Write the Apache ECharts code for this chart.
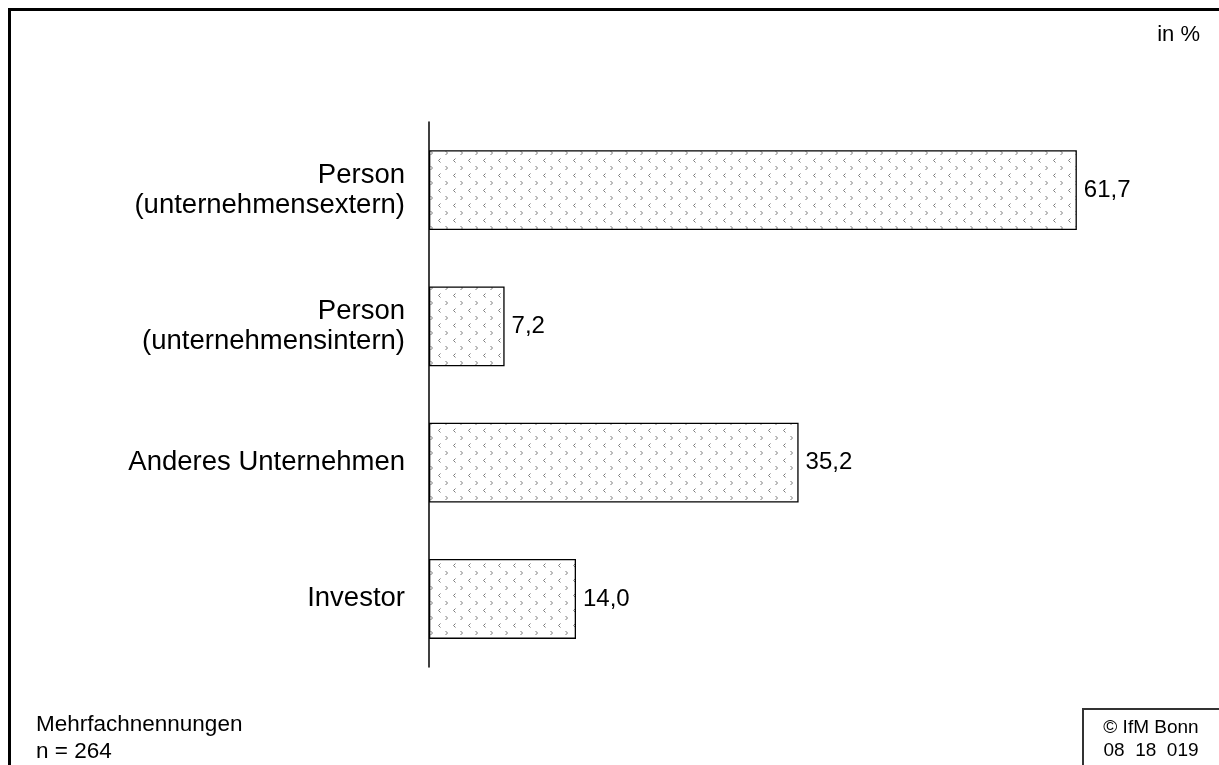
<!DOCTYPE html>
<html>
<head>
<meta charset="utf-8">
<script src="https://cdn.jsdelivr.net/npm/echarts@6/dist/echarts.min.js"></script>
<style>
  html, body { margin: 0; padding: 0; background: #fff; }
  #main { width: 1219px; height: 765px; }
</style>
</head>
<body>
<div id="main"></div>
<script>
// Kategorien und Werte (in %)
var categories = ['Person\n(unternehmensextern)', 'Person\n(unternehmensintern)', 'Anderes Unternehmen', 'Investor'];
var values = [61.7, 7.2, 35.2, 14.0];
var unitLabel = 'in %';
var noteLines = ['Mehrfachnennungen', 'n = 264'];
var sourceLines = ['© IfM Bonn', '08  18  019'];

var FONT = '"Liberation Sans", Arial, sans-serif';

// Füllmuster: kleine graue < > Zeichen
function makePattern() {
  var c = document.createElement('canvas');
  c.width = 15;
  c.height = 15;
  var ctx = c.getContext('2d');
  ctx.strokeStyle = '#7a7a7a';
  ctx.lineWidth = 1;
  // ">"
  ctx.beginPath();
  ctx.moveTo(10.5, 1);
  ctx.lineTo(12.5, 3);
  ctx.lineTo(10.5, 5);
  ctx.stroke();
  // "<"
  ctx.beginPath();
  ctx.moveTo(5.5, 8.5);
  ctx.lineTo(3.5, 10.5);
  ctx.lineTo(5.5, 12.5);
  ctx.stroke();
  return c;
}

var chart = echarts.init(document.getElementById('main'), null, { renderer: 'canvas' });

var option = {
  backgroundColor: '#fff',
  animation: false,
  grid: { left: 429, top: 122, width: 735, height: 545 },
  xAxis: {
    type: 'value',
    min: 0,
    max: 70,
    show: false
  },
  yAxis: {
    type: 'category',
    inverse: true,
    data: categories,
    axisLine: { show: true, lineStyle: { color: '#000', width: 1.5 } },
    axisTick: { show: false },
    axisLabel: {
      color: '#000',
      fontFamily: FONT,
      fontSize: 27.5,
      lineHeight: 30,
      margin: 24
    }
  },
  series: [{
    type: 'bar',
    data: values,
    barWidth: 80,
    itemStyle: {
      color: { image: makePattern(), repeat: 'repeat' },
      borderColor: '#000',
      borderWidth: 1.3
    },
    label: {
      show: true,
      position: 'right',
      distance: 7,
      color: '#000',
      fontFamily: FONT,
      fontSize: 24,
      formatter: function (p) { return p.value.toFixed(1).replace('.', ','); }
    }
  }],
  graphic: [
    // Rahmen oben / links
    { type: 'polyline', shape: { points: [[9.5, 765], [9.5, 9.5], [1219, 9.5]] }, style: { stroke: '#000', lineWidth: 3, fill: null } },
    // Quellenkasten unten rechts
    { type: 'polyline', shape: { points: [[1083, 765], [1083, 709], [1219, 709]] }, style: { stroke: '#333', lineWidth: 2, fill: null } },
    { type: 'text', right: 19, top: 24, style: { text: unitLabel, font: '22px ' + FONT, fill: '#000' } },
    { type: 'text', left: 36, top: 711, style: { text: noteLines.join('\n'), font: '22.5px ' + FONT, lineHeight: 27, fill: '#000' } },
    { type: 'text', x: 1151, y: 716, style: { text: sourceLines.join('\n'), font: '19px ' + FONT, lineHeight: 23, fill: '#000', align: 'center' } }
  ]
};

chart.setOption(option);
</script>
</body>
</html>
